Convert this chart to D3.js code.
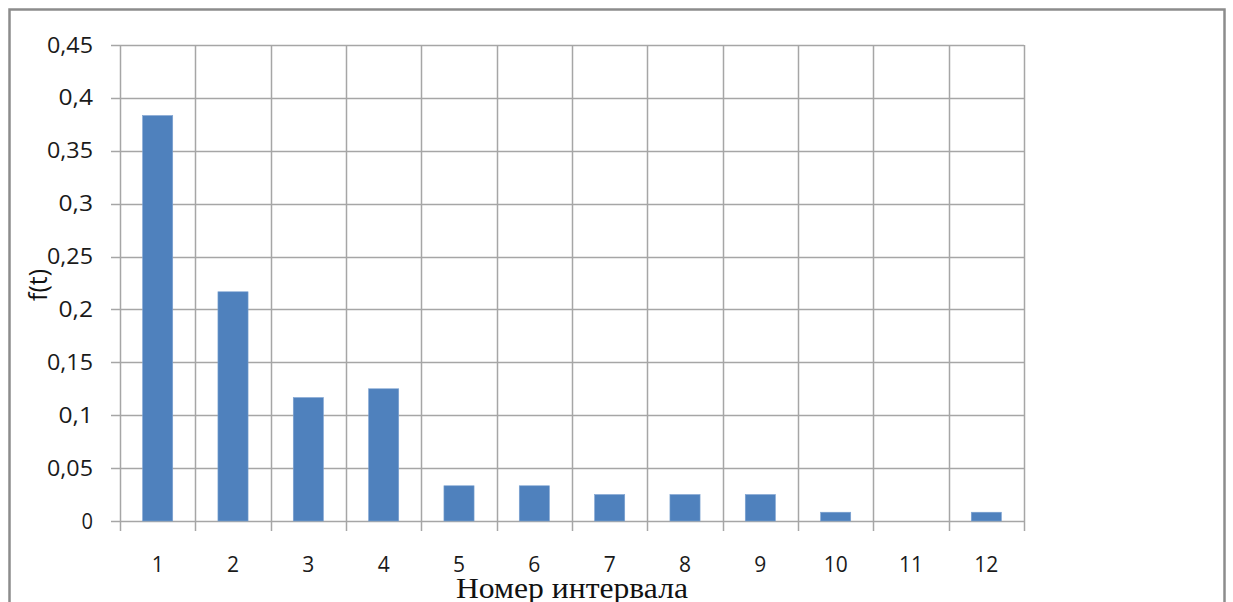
<!DOCTYPE html>
<html><head><meta charset="utf-8">
<script src="https://cdn.jsdelivr.net/npm/d3@7"></script>
<style>body{margin:0;background:#fff}svg{display:block}</style>
</head><body>
<svg id="c" width="1233" height="602"></svg>
<script>
const categories = ["1","2","3","4","5","6","7","8","9","10","11","12"];
const values = [0.3833,0.2167,0.1167,0.125,0.0333,0.0333,0.025,0.025,0.025,0.0083,0,0.0083];
const yTicks = [0,0.05,0.1,0.15,0.2,0.25,0.3,0.35,0.4,0.45];
const yTickLabels = ["0","0,05","0,1","0,15","0,2","0,25","0,3","0,35","0,4","0,45"];
const yTitle = "f(t)";
const xTitle = "Номер интервала";

const svg = d3.select("#c");
const L=120, R=1024, T=45, B=521;
svg.append("rect").attr("x",9.5).attr("y",9.5).attr("width",1215).attr("height",620)
  .attr("fill","none").attr("stroke","#8c8c8c").attr("stroke-width",2.5);

const x = d3.scaleBand().domain(categories).range([L,R]).paddingInner(0.6).paddingOuter(0.3);
const xb = d3.scaleBand().domain(categories).range([L,R]);
const y = d3.scaleLinear().domain([0,0.45]).range([B,T]);
const grid="#a6a6a6";
const font="Open Sans, Noto Sans, sans-serif";

svg.append("g").selectAll("line").data(yTicks).join("line")
  .attr("x1",L-9).attr("x2",R).attr("y1",d=>Math.round(y(d))+0.5).attr("y2",d=>Math.round(y(d))+0.5)
  .attr("stroke",grid).attr("stroke-width",1.5);
const bounds = categories.map(c=>xb(c)).concat([R]);
svg.append("g").selectAll("line").data(bounds).join("line")
  .attr("x1",d=>Math.round(d)+0.5).attr("x2",d=>Math.round(d)+0.5).attr("y1",T).attr("y2",B+10)
  .attr("stroke",grid).attr("stroke-width",1.5);

svg.append("g").selectAll("rect").data(values).join("rect")
  .attr("x",(d,i)=>x(categories[i])).attr("width",x.bandwidth())
  .attr("y",d=>y(d)).attr("height",d=>B-y(d))
  .attr("fill","#4f81bd").attr("stroke","#7ea3d1").attr("stroke-width",0.6);

svg.append("g").selectAll("text").data(yTicks).join("text")
  .attr("x",93).attr("y",d=>y(d)+7.5).attr("text-anchor","end")
  .attr("font-family",font).attr("font-size",21).attr("fill","#1a1a1a")
  .attr("textLength",(d,i)=>yTickLabels[i].length*11.5).attr("lengthAdjust","spacingAndGlyphs")
  .text((d,i)=>yTickLabels[i]);
svg.append("g").selectAll("text").data(categories).join("text")
  .attr("x",d=>xb(d)+xb.bandwidth()/2).attr("y",572).attr("text-anchor","middle")
  .attr("font-family",font).attr("font-size",21).attr("fill","#1a1a1a")
  .text(d=>d);

svg.append("text").attr("transform","translate(47,285) rotate(-90)").attr("text-anchor","middle")
  .attr("font-family",font).attr("font-size",25).attr("fill","#111").text(yTitle);
svg.append("text").attr("x",572).attr("y",598).attr("text-anchor","middle")
  .attr("font-family","Liberation Serif, serif").attr("font-size",30).attr("fill","#111")
  .attr("textLength",232).attr("lengthAdjust","spacingAndGlyphs").text(xTitle);
</script>
</body></html>
